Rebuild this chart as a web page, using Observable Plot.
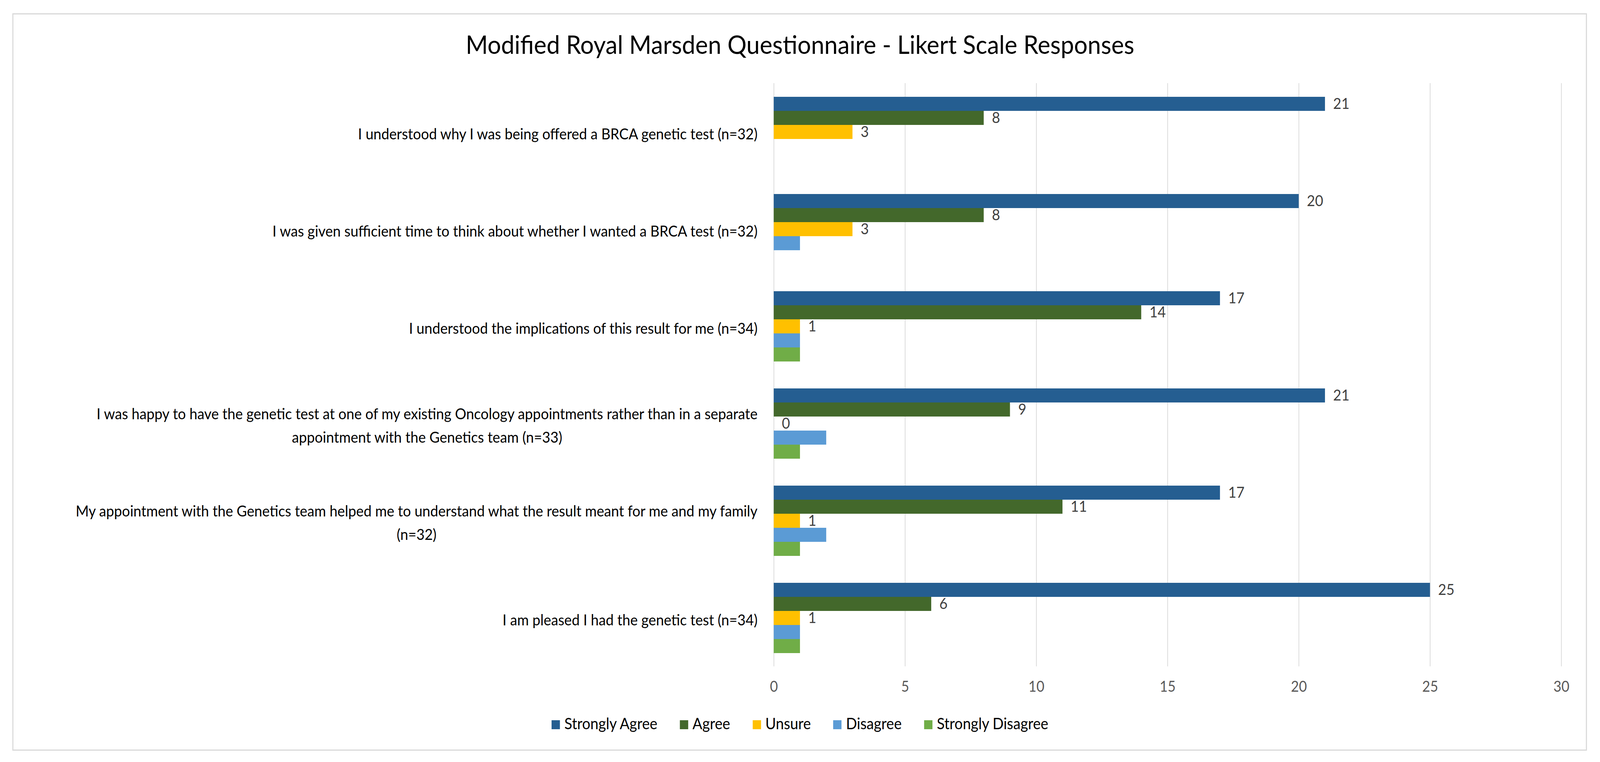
<!DOCTYPE html>
<html>
<head>
<meta charset="utf-8">
<script src="https://cdn.jsdelivr.net/npm/d3@7"></script>
<script src="https://cdn.jsdelivr.net/npm/@observablehq/plot@0.6"></script>
<style>
  html, body { margin: 0; padding: 0; background: #fff; overflow: hidden; }
  #page { width: 4415px; height: 1952px; position: absolute; left: 0; top: 0; overflow: hidden; transform-origin: 0 0; font-family: Lato, "Open Sans", sans-serif; }
  #frame { position: absolute; left: 34px; top: 34px; width: 4345px; height: 1889px; border: 3px solid #d9d9d9; box-sizing: border-box; }
  #title { position: absolute; left: 0; top: 80px; width: 4415px; text-align: center; font-size: 66px; line-height: 1; color: #000; white-space: nowrap; }
  #chart { position: absolute; left: 0; top: 180px; width: 4415px; }
  #legend { position: absolute; left: 0; top: 1833px; width: 4415px; text-align: center; font-size: 40px; line-height: 1; color: #000; white-space: nowrap; }
  #legend .item { display: inline-block; margin: 0 31px; }
  #legend .sw { display: inline-block; width: 23px; height: 23px; margin-right: 12px; vertical-align: baseline; }
</style>
</head>
<body>
<div id="page">
<div id="frame"></div>
<div id="title">Modified Royal Marsden Questionnaire - Likert Scale Responses</div>
<div id="chart"></div>
<div id="legend"></div>
</div>
<script>
const categories = [
  "I understood why I was being offered a BRCA genetic test (n=32)",
  "I was given sufficient time to think about whether I wanted a BRCA test (n=32)",
  "I understood the implications of this result for me (n=34)",
  "I was happy to have the genetic test at one of my existing Oncology appointments rather than in a separate\nappointment with the Genetics team (n=33)",
  "My appointment with the Genetics team helped me to understand what the result meant for me and my family\n(n=32)",
  "I am pleased I had the genetic test (n=34)"
];
const series = ["Strongly Agree", "Agree", "Unsure", "Disagree", "Strongly Disagree"];
const stronglyAgree    = [21, 20, 17, 21, 17, 25];
const agree            = [8, 8, 14, 9, 11, 6];
const unsure           = [3, 3, 1, 0, 1, 1];
const disagree         = [0, 1, 1, 2, 2, 1];
const stronglyDisagree = [0, 0, 1, 1, 1, 1];
const colors = ["#255E91", "#43682B", "#FFC000", "#5B9BD5", "#70AD47"];
const labelledSeries = ["Strongly Agree", "Agree", "Unsure"];
const xTicks = [0, 5, 10, 15, 20, 25, 30];

const seriesValues = [stronglyAgree, agree, unsure, disagree, stronglyDisagree];
const rows = [];
categories.forEach((c, i) => {
  series.forEach((s, j) => rows.push({category: c, series: s, value: seriesValues[j][i]}));
});

const chart = Plot.plot({
  width: 4415,
  height: 1618,
  marginTop: 32,
  marginBottom: 90,
  marginLeft: 2135,
  marginRight: 107,
  style: {fontFamily: "Lato, 'Open Sans', sans-serif", background: "transparent", overflow: "visible", maxWidth: "none"},
  x: {domain: [0, 30]},
  y: {domain: series, paddingInner: 0, paddingOuter: 0.91, axis: null},
  fy: {domain: categories, padding: 0},
  color: {domain: series, range: colors},
  marks: [
    Plot.gridX(xTicks, {stroke: "#d9d9d9", strokeOpacity: 1, strokeWidth: 2}),
    Plot.axisX({ticks: xTicks, tickSize: 0, tickPadding: 38, fontSize: 38, fill: "#595959", label: null}),
    Plot.axisFy({anchor: "left", tickSize: 0, tickPadding: 45, fontSize: 39, fill: "#000", label: null, lineHeight: 1.54}),
    Plot.barX(rows, {x: "value", y: "series", fy: "category", fill: "series"}),
    Plot.text(rows.filter(d => labelledSeries.includes(d.series)), {
      x: "value", y: "series", fy: "category", text: d => String(d.value),
      dx: 22, textAnchor: "start", fontSize: 39, fill: "#404040"
    })
  ]
});
document.getElementById("chart").appendChild(chart);

chart.querySelectorAll('g[aria-label="fy-axis tick label"] text').forEach(t => {
  const w = t.getBBox().width;
  t.setAttribute("text-anchor", "middle");
  t.setAttribute("transform", (t.getAttribute("transform") || "") + ` translate(${-w / 2},0)`);
});

const legend = document.getElementById("legend");
series.forEach((s, j) => {
  const item = document.createElement("span");
  item.className = "item";
  const sw = document.createElement("span");
  sw.className = "sw";
  sw.style.background = colors[j];
  item.appendChild(sw);
  item.appendChild(document.createTextNode(s));
  legend.appendChild(item);
});

function fit() {
  const kx = window.innerWidth / 4415, ky = window.innerHeight / 1952;
  document.getElementById("page").style.transform = `scale(${kx}, ${ky})`;
}
fit();
window.addEventListener("resize", fit);
</script>
</body>
</html>
